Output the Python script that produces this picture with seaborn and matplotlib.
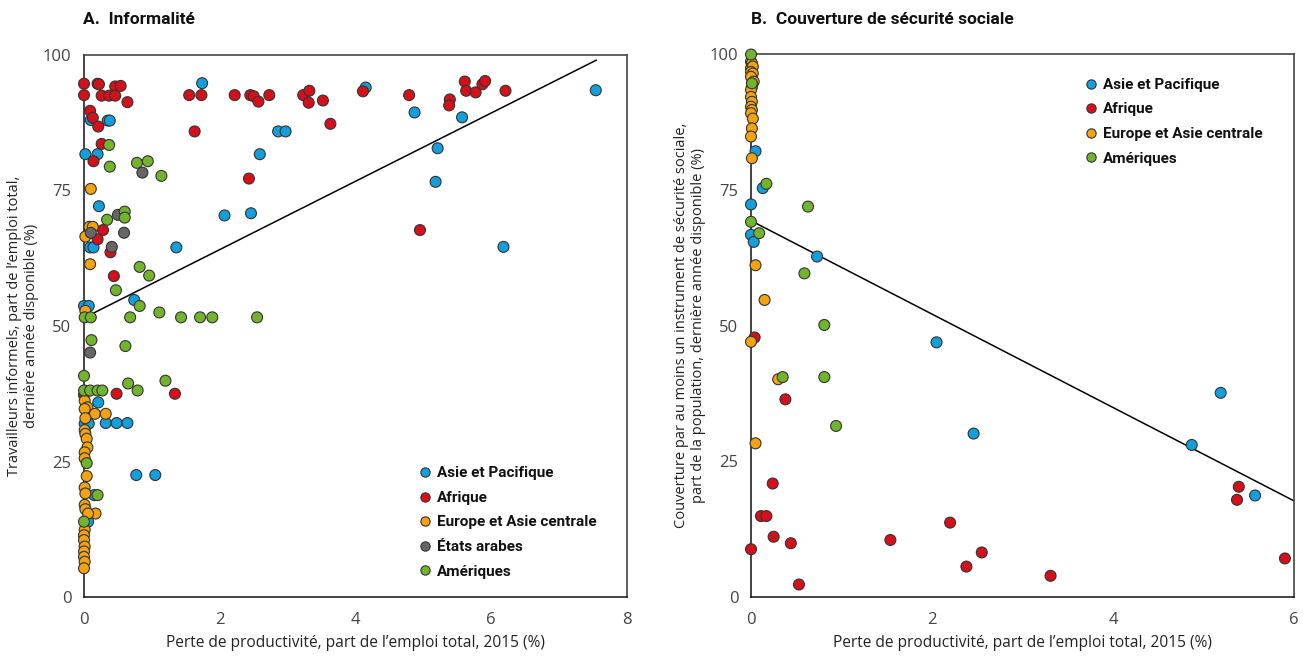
import numpy as np
import pandas as pd
import matplotlib
matplotlib.use("Agg")
import matplotlib.pyplot as plt
import seaborn as sns

# ---------------- DATA ----------------
regions = ["Asie et Pacifique", "Afrique", "Europe et Asie centrale", "États arabes", "Amériques"]
colors = ["#129fdb", "#d4101b", "#f2a30f", "#666666", "#72b52d"]

# Panel A : (productivity loss, informal workers)
a_asie_x = [1.74, 0.10, 0.35, 0.38, 0.02, 0.20, 0.22, 2.07, 2.46, 0.09, 0.14, 1.36, 0.74, 0.00, 0.07, 0.21, 0.01, 0.07,
            0.32, 0.48, 0.64, 0.77, 1.05, 0.15, 0.06, 4.15, 2.86, 2.97, 2.59, 4.87, 5.57, 5.21, 5.18, 6.18, 7.54]
a_asie_y = [94.8, 88.0, 87.9, 87.9, 81.7, 81.7, 72.1, 70.4, 70.8, 64.5, 64.5, 64.5, 54.8, 53.7, 53.7, 35.9, 32.0, 32.0,
            32.1, 32.1, 32.1, 22.5, 22.5, 18.8, 13.9, 94.0, 85.9, 85.9, 81.7, 89.4, 88.5, 82.8, 76.6, 64.6, 93.5]
a_afr_x = [0.00, 0.20, 0.22, 0.46, 0.54, 0.00, 0.26, 0.37, 0.46, 0.64, 1.55, 1.73, 2.22, 2.45, 2.50, 2.57, 2.73, 3.23,
           3.32, 3.31, 3.52, 4.11, 3.63, 0.09, 0.13, 0.21, 1.63, 0.26, 0.14, 2.43, 0.28, 0.20, 0.39, 0.44, 0.48, 1.34,
           0.00, 4.79, 5.39, 5.38, 5.61, 5.63, 5.77, 5.87, 5.91, 6.21, 4.95]
a_afr_y = [94.7, 94.7, 94.6, 94.2, 94.3, 92.6, 92.5, 92.5, 92.5, 91.3, 92.6, 92.6, 92.6, 92.6, 92.4, 91.4, 92.6, 92.6,
           93.4, 91.2, 91.6, 93.3, 87.3, 89.7, 88.4, 86.8, 85.9, 83.6, 80.4, 77.2, 67.7, 66.0, 63.6, 59.2, 37.5, 37.5,
           37.3, 92.6, 91.8, 90.7, 95.1, 93.4, 93.1, 94.6, 95.2, 93.4, 67.7]
a_eur_x = [0.10, 0.08, 0.13, 0.02, 0.09, 0.02, 0.01, 0.05, 0.01, 0.16, 0.32, 0.02, 0.01, 0.02, 0.04, 0.05, 0.01,
           0.01, 0.04, 0.01, 0.02, 0.01, 0.02, 0.17, 0.06, 0.01, 0.00, 0.00, 0.01, 0.00, 0.00, 0.01, 0.00]
a_eur_y = [75.3, 68.3, 68.3, 66.5, 61.4, 52.8, 36.2, 35.0, 34.7, 33.8, 33.8, 33.0, 30.8, 30.1, 29.2, 27.6, 26.7,
           25.6, 22.3, 20.2, 19.1, 17.0, 16.2, 15.4, 15.4, 12.4, 11.4, 10.5, 9.3, 8.4, 7.4, 6.5, 5.3]
a_arab_x = [0.86, 0.50, 0.10, 0.59, 0.41, 0.09]
a_arab_y = [78.3, 70.5, 67.2, 67.2, 64.6, 45.1]
a_amer_x = [0.37, 0.78, 0.94, 0.38, 1.14, 0.60, 0.60, 0.34, 0.82, 0.96, 0.47, 0.82, 0.01, 0.10, 0.68, 1.11, 1.43,
            1.71, 1.89, 2.55, 0.11, 0.61, 0.00, 0.65, 0.79, 1.20, 0.00, 0.09, 0.20, 0.27, 0.04, 0.20, 0.00]
a_amer_y = [83.4, 80.1, 80.4, 79.4, 77.7, 71.1, 70.0, 69.6, 60.9, 59.3, 56.6, 53.7, 51.6, 51.6, 51.6, 52.5, 51.6,
            51.6, 51.6, 51.6, 47.4, 46.3, 40.8, 39.4, 38.1, 39.9, 38.1, 38.1, 38.1, 38.1, 24.7, 18.8, 13.9]

# Panel B : (productivity loss, social protection coverage)
b_asie_x = [0.05, 0.13, 0.00, 0.00, 0.03, 0.73, 2.05, 2.46, 4.87, 5.19, 5.57]
b_asie_y = [82.1, 75.3, 72.3, 66.7, 65.4, 62.7, 46.9, 30.1, 28.0, 37.6, 18.7]
b_afr_x = [0.04, 0.38, 0.24, 0.11, 0.17, 0.25, 0.44, 0.00, 0.53, 1.54, 2.20, 2.38, 2.55, 3.31, 5.39, 5.37, 5.90]
b_afr_y = [47.8, 36.4, 20.9, 14.9, 14.9, 11.1, 9.9, 8.8, 2.3, 10.5, 13.7, 5.6, 8.2, 3.9, 20.3, 17.9, 7.1]
b_eur_x = [0.00, 0.01, 0.00, 0.02, 0.00, 0.02, 0.00, 0.03, 0.01, 0.00, 0.00, 0.01, 0.00, 0.01, 0.00, 0.02, 0.01,
           0.00, 0.01, 0.05, 0.15, 0.00, 0.30, 0.05]
b_eur_y = [98.6, 98.3, 97.4, 97.7, 96.7, 96.4, 95.8, 94.9, 93.9, 93.4, 92.1, 91.2, 90.3, 89.7, 89.1, 88.1, 86.3,
           84.8, 80.8, 61.1, 54.7, 47.0, 40.1, 28.3]
b_amer_x = [0.00, 0.01, 0.17, 0.63, 0.00, 0.09, 0.59, 0.81, 0.35, 0.81, 0.94]
b_amer_y = [99.9, 94.6, 76.1, 71.9, 69.1, 67.0, 59.6, 50.1, 40.5, 40.5, 31.5]

# Fitted trend lines: [intercept, slope], [x start, x end]
trend_a = [51.5, 6.3]
trend_a_range = [0.12, 7.55]
trend_b = [69.3, -8.6]
trend_b_range = [0.0, 6.0]

xticks_a = [0, 2, 4, 6, 8]
xticks_b = [0, 2, 4, 6]
yticks = [0, 25, 50, 75, 100]

title_a = "A.  Informalité"
title_b = "B.  Couverture de sécurité sociale"
xlabel = "Perte de productivité, part de l\u2019emploi total, 2015 (%)"
ylabel_a = "Travailleurs informels, part de l\u2019emploi total,\ndernière année disponible (%)"
ylabel_b = "Couverture par au moins un instrument de sécurité sociale,\npart de la population, dernière année disponible (%)"


def frame(groups):
    rows = []
    for reg, xs, ys in groups:
        for x, y in zip(xs, ys):
            rows.append((reg, x, y))
    return pd.DataFrame(rows, columns=["region", "x", "y"])


df_a = frame([(regions[0], a_asie_x, a_asie_y), (regions[1], a_afr_x, a_afr_y),
              (regions[2], a_eur_x, a_eur_y), (regions[3], a_arab_x, a_arab_y),
              (regions[4], a_amer_x, a_amer_y)])
df_b = frame([(regions[0], b_asie_x, b_asie_y), (regions[1], b_afr_x, b_afr_y),
              (regions[2], b_eur_x, b_eur_y), (regions[4], b_amer_x, b_amer_y)])

# ---------------- STYLE ----------------
sns.set_theme(style="white")
plt.rcParams["font.family"] = ["Open Sans", "DejaVu Sans"]
palette = dict(zip(regions, colors))

fig = plt.figure(figsize=(13.07, 6.57), dpi=100)
ax_a = fig.add_axes([84 / 1307, 60 / 657, 543 / 1307, 542 / 657])
ax_b = fig.add_axes([751 / 1307, 60 / 657, 543 / 1307, 543 / 657])


def draw(ax, df, order, trend, trange, xlim, xticks, ylabel, leg_anchor, leg_loc):
    # trend line
    xs = np.array(trange)
    ax.plot(xs, trend[0] + trend[1] * xs, color="black", lw=1.1, zorder=1)
    sns.scatterplot(data=df, x="x", y="y", hue="region", hue_order=order, palette=palette,
                    s=62, edgecolor="#333333", linewidth=0.8, ax=ax, zorder=3, clip_on=False)
    ax.set_xlim(*xlim)
    ax.set_ylim(0, 100)
    ax.set_xticks(xticks)
    ax.set_yticks(yticks)
    ax.set_xlabel(xlabel, fontsize=11.2, color="#222222", labelpad=5)
    ax.set_ylabel(ylabel, fontsize=10.5, color="#222222", labelpad=3)
    ax.tick_params(axis="both", length=0, labelsize=12, colors="#444444")
    ax.tick_params(axis="x", pad=11)
    ax.tick_params(axis="y", pad=9)
    for side in ["left", "bottom"]:
        ax.spines[side].set_color("#111111")
        ax.spines[side].set_linewidth(1.1)
    for side in ["top", "right"]:
        ax.spines[side].set_color("#444444")
        ax.spines[side].set_linewidth(1.2)
    handles, labels = ax.get_legend_handles_labels()
    leg = ax.legend(handles, labels, loc=leg_loc, bbox_to_anchor=leg_anchor, frameon=False,
                    prop={"family": "Roboto", "weight": "bold", "size": 11},
                    handletextpad=0.2, labelspacing=0.69, borderaxespad=0, borderpad=0,
                    handlelength=1.2, markerscale=0.85)
    for t in leg.get_texts():
        t.set_color("#111111")


draw(ax_a, df_a, regions, trend_a, trend_a_range, (0, 8), xticks_a, ylabel_a, (0.6105, 0.241), "upper left")
draw(ax_b, df_b, [regions[0], regions[1], regions[2], regions[4]], trend_b, trend_b_range, (0, 6), xticks_b,
     ylabel_b, (0.6085, 0.956), "upper left")

fig.text(83 / 1307, 1 - 19 / 657, title_a, fontsize=12.5, fontweight="bold", family="Roboto",
         ha="left", va="center", color="#111111")
fig.text(751 / 1307, 1 - 19 / 657, title_b, fontsize=12.5, fontweight="bold", family="Roboto",
         ha="left", va="center", color="#111111")

fig.savefig("out.png", dpi=100, facecolor="white")
